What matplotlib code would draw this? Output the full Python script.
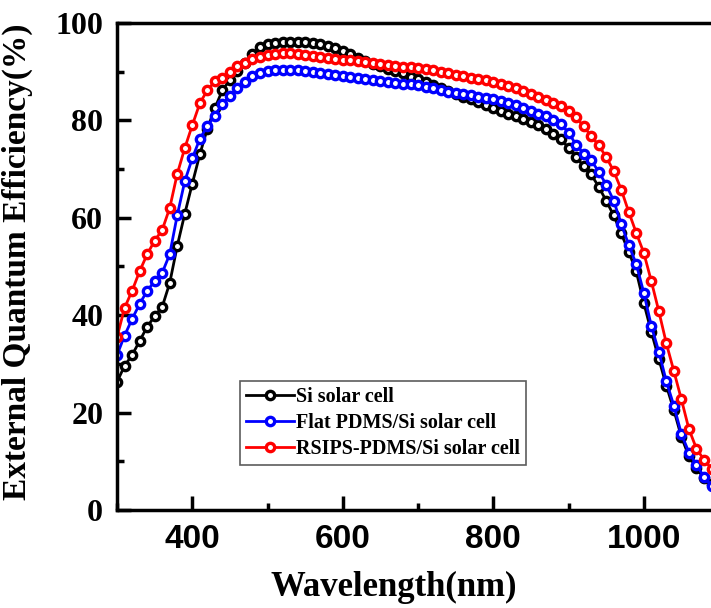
import numpy as np
import matplotlib
matplotlib.use("Agg")
import matplotlib.pyplot as plt
from matplotlib.ticker import MultipleLocator

wavelength = list(range(300, 1100, 10))

si_cell = [26.3, 29.6, 31.8, 34.7, 37.6, 39.8, 41.7, 46.6, 54.2, 60.8,
           67.0, 73.0, 78.3, 82.5, 86.2, 88.3, 90.2, 91.7, 93.6, 95.1,
           95.6, 95.9, 96.1, 96.1, 96.1, 96.0, 95.9, 95.7, 95.3, 94.8,
           94.2, 93.6, 92.9, 92.1, 91.6, 91.1, 90.6, 90.2, 89.7, 89.0,
           88.5, 87.9, 87.3, 86.7, 86.1, 85.5, 84.9, 84.3, 83.8, 83.2,
           82.6, 82.0, 81.4, 80.8, 80.2, 79.6, 79.0, 78.2, 77.3, 76.2,
           74.3, 72.5, 70.6, 68.9, 66.4, 63.5, 60.5, 56.8, 53.0, 49.0,
           42.5, 36.6, 31.0, 25.5, 20.5, 15.0, 11.0, 8.6, 6.5, 5.3]

flat_pdms = [31.8, 35.8, 39.2, 42.3, 45.0, 47.0, 48.7, 52.5, 60.5, 67.5,
             72.2, 76.2, 78.8, 81.0, 83.4, 85.1, 86.6, 87.9, 89.1, 89.8,
             90.1, 90.3, 90.4, 90.4, 90.3, 90.1, 89.9, 89.7, 89.5, 89.3,
             89.1, 89.0, 88.8, 88.5, 88.3, 88.0, 87.8, 87.6, 87.5, 87.4,
             87.2, 86.9, 86.6, 86.2, 85.9, 85.6, 85.4, 85.2, 84.9, 84.6,
             84.3, 84.0, 83.6, 83.2, 82.6, 82.0, 81.4, 80.8, 80.0, 79.2,
             77.5, 75.0, 73.2, 71.8, 69.5, 66.8, 63.5, 58.8, 54.4, 50.5,
             44.6, 37.8, 32.5, 26.4, 21.4, 15.6, 11.8, 9.3, 6.8, 5.0]

rsips_pdms = [35.5, 41.5, 45.0, 49.0, 52.5, 55.3, 57.5, 62.0, 69.0, 74.3,
              79.0, 83.5, 86.2, 88.0, 88.8, 90.0, 91.1, 91.8, 92.7, 93.1,
              93.5, 93.7, 93.8, 93.8, 93.7, 93.5, 93.3, 93.0, 92.8, 92.6,
              92.4, 92.3, 92.1, 91.9, 91.7, 91.5, 91.3, 91.2, 91.0, 90.9,
              90.8, 90.5, 90.3, 90.0, 89.7, 89.4, 89.1, 88.8, 88.5, 88.2,
              87.9, 87.5, 87.1, 86.6, 86.0, 85.4, 84.8, 84.2, 83.6, 82.9,
              81.9, 80.6, 78.8, 76.8, 74.9, 72.5, 69.6, 65.8, 61.2, 56.9,
              52.8, 47.0, 40.8, 34.2, 28.5, 22.7, 16.6, 12.6, 10.3, 8.5]

labels = ["Si solar cell", "Flat PDMS/Si solar cell", "RSIPS-PDMS/Si solar cell"]
colors = ["black", "blue", "red"]

fig = plt.figure(figsize=(7.11, 6.08), dpi=100)
ax = fig.add_axes([0.1646, 0.1612, 0.8467, 0.801])

for vals, lab, c in zip([si_cell, flat_pdms, rsips_pdms], labels, colors):
    ax.plot(wavelength, vals, color=c, lw=2, marker="o", ms=6,
            mfc="white", mec=c, mew=2.4, label=lab)

ax.set_xlim(300, 1100)
ax.set_ylim(0, 100)
ax.xaxis.set_major_locator(MultipleLocator(200))
ax.xaxis.set_minor_locator(MultipleLocator(100))
ax.yaxis.set_major_locator(MultipleLocator(20))
ax.yaxis.set_minor_locator(MultipleLocator(10))
ax.tick_params(which="both", direction="in", width=2.5, top=False, right=False)
ax.tick_params(which="major", length=10)
ax.tick_params(which="minor", length=5)
for s in ax.spines.values():
    s.set_linewidth(2.5)
ax.spines["right"].set_visible(False)

for t in ax.get_xticklabels():
    t.set_fontfamily("Liberation Sans")
    t.set_fontweight("bold")
    t.set_fontsize(24)
for t in ax.get_yticklabels():
    t.set_fontfamily("Liberation Serif")
    t.set_fontweight("bold")
    t.set_fontsize(23)
ax.tick_params(axis="x", pad=10)
ax.tick_params(axis="y", pad=10)

ax.set_xlabel("Wavelength(nm)", fontfamily="Liberation Serif", fontweight="bold",
              fontsize=25)
ax.xaxis.set_label_coords(0.46, -0.125)
ax.set_ylabel("External Quantum Efficiency(%)", fontfamily="Liberation Serif",
              fontweight="bold", fontsize=24)
ax.yaxis.set_label_coords(-0.14, 0.51)

leg = ax.legend(loc="lower left", bbox_to_anchor=(0.204, 0.092), fancybox=False,
                edgecolor="#333333", handlelength=2.4, borderpad=0.3,
                labelspacing=0.3, handletextpad=0.1, borderaxespad=0,
                prop={"family": "Liberation Serif", "weight": "bold", "size": 14.5})
leg.get_frame().set_linewidth(1.2)

fig.savefig("out.png", dpi=100)
